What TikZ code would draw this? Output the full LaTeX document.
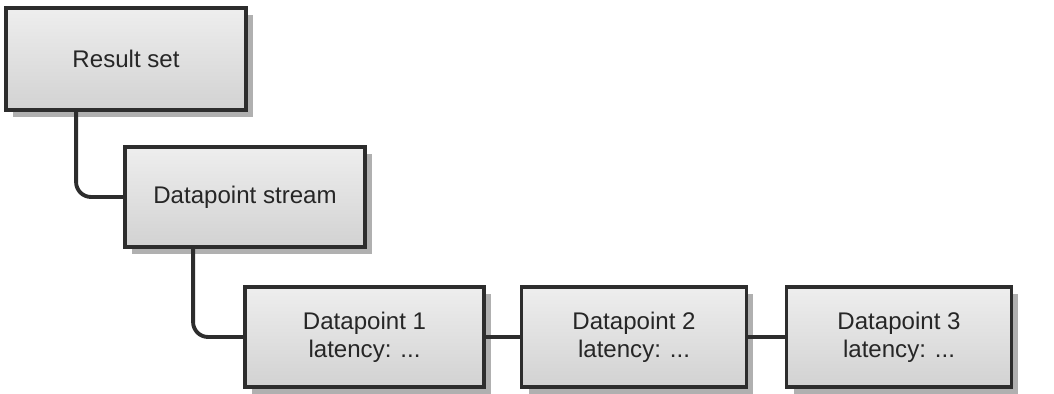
\documentclass[tikz,border=0pt]{standalone}
\usepackage{fontspec}
\setmainfont{Liberation Sans}
\usepackage{tikz}
\usepackage{xcolor}
\usetikzlibrary{positioning, shadows}
\definecolor{boxline}{RGB}{45,45,45}
\definecolor{boxtop}{RGB}{238,238,238}
\definecolor{boxbot}{RGB}{210,210,210}
\definecolor{shade}{RGB}{176,176,176}

\begin{document}
\begin{tikzpicture}[
    x=0.02cm, y=-0.02cm,
    font=\fontsize{13.7}{15.9}\selectfont,
    base/.style={draw=boxline, line width=2.2pt, align=center, inner sep=0pt,
                 minimum height=2cm, text=black!85,
                 top color=boxtop, bottom color=boxbot,
                 drop shadow={shadow xshift=0.14cm, shadow yshift=-0.14cm,
                              fill=shade, opacity=1}},
    item/.style={base, minimum width=4.8cm},
    point/.style={base, minimum width=4.5cm},
    link/.style={draw=boxline, line width=2.2pt, rounded corners=0.3cm},
  ]
  \useasboundingbox (0,0) rectangle (1054,394);
  % boxes
    \node[item, minimum height=2.04cm] (rs)  at (126,59)  {Result set};
    \node[item]  (ds)  at (245,197) {Datapoint stream};
    \node[item, minimum width=4.78cm] (dp1) at (364.5,337) {Datapoint 1\\latency: ...};
    \node[point] (dp2) at (634,337) {Datapoint 2\\latency: ...};
    \node[point] (dp3) at (899,337) {Datapoint 3\\latency: ...};
  % links
    \draw[link] ([xshift=1.44cm]rs.south west) |- (ds.west);
    \draw[link] ([xshift=1.4cm]ds.south west) |- (dp1.west);
    \draw[link] (dp1.east) -- (dp2.west);
    \draw[link] (dp2.east) -- (dp3.west);
\end{tikzpicture}
\end{document}
